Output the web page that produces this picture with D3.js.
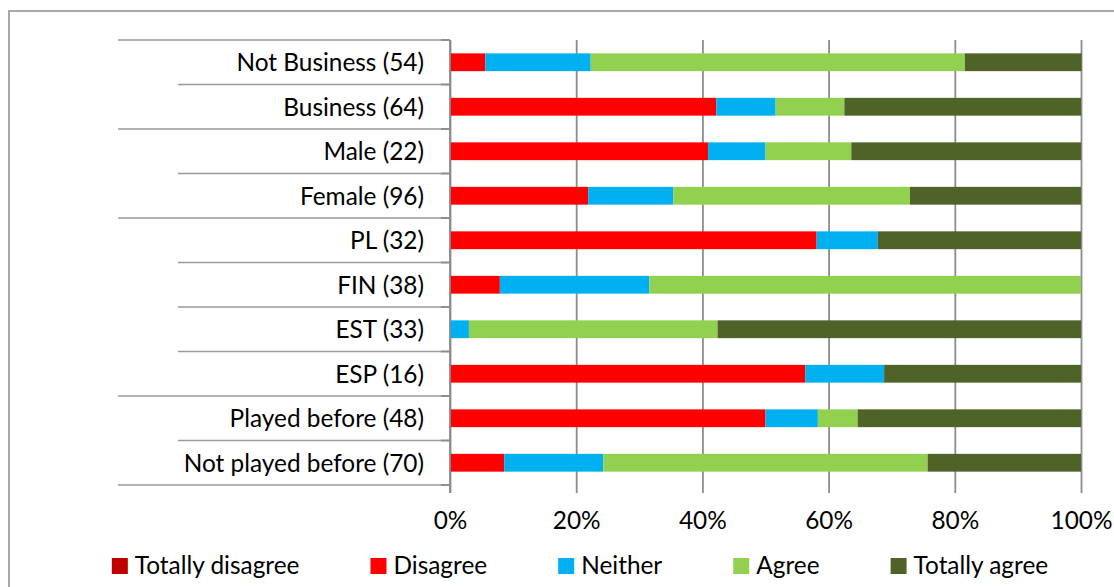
<!DOCTYPE html>
<html>
<head>
<meta charset="utf-8">
<script src="https://cdn.jsdelivr.net/npm/d3@7"></script>
<style>
  html, body { margin: 0; padding: 0; background: #fff; }
  svg { display: block; }
  text { font-family: Lato, "Liberation Sans", sans-serif; fill: #000; }
</style>
</head>
<body>
<svg id="chart" width="1114" height="587"></svg>
<script>
// Survey answers per respondent group, share of answers in percent
const categories = [
  "Not Business (54)", "Business (64)", "Male (22)", "Female (96)",
  "PL (32)", "FIN (38)", "EST (33)", "ESP (16)",
  "Played before (48)", "Not played before (70)"
];
// Outer grouping of the category axis (index of the first category in each group)
const groupStarts = [0, 2, 4, 8];

const seriesNames = ["Totally disagree", "Disagree", "Neither", "Agree", "Totally agree"];
const totallyDisagree = [0, 0, 0, 0, 0, 0, 0, 0, 0, 0];
const disagree        = [5.6, 42.2, 40.9, 21.9, 58.1, 7.9, 0, 56.3, 50.0, 8.6];
const neither         = [16.7, 9.4, 9.1, 13.5, 9.7, 23.7, 3.0, 12.5, 8.3, 15.7];
const agree           = [59.3, 10.9, 13.6, 37.5, 0, 68.4, 39.4, 0, 6.3, 51.4];
const totallyAgree    = [18.5, 37.5, 36.4, 27.1, 32.2, 0, 57.6, 31.2, 35.4, 24.3];
const tickValues = [0, 20, 40, 60, 80, 100];

const colors = ["#C00000", "#FF0000", "#00B0F0", "#92D050", "#4F6228"];
const seriesValues = [totallyDisagree, disagree, neither, agree, totallyAgree];

const svg = d3.select("#chart");
const W = 1114, H = 587;
const plot = { left: 450, right: 1081, top: 40, bottom: 485 };
const gridColor = "#8c8c8c";
const fontSize = 24.4;

// chart area frame (runs off the right and bottom edges)
svg.append("rect")
  .attr("x", 9).attr("y", 11)
  .attr("width", W).attr("height", H)
  .attr("fill", "none").attr("stroke", gridColor).attr("stroke-width", 1.5);

const x = d3.scaleLinear().domain([0, 100]).range([plot.left, plot.right]);
const y = d3.scaleBand().domain(categories).range([plot.top, plot.bottom]).paddingInner(0.6).paddingOuter(0.3);
const band = d3.scaleBand().domain(categories).range([plot.top, plot.bottom]);

// stacked rows
const rows = categories.map((c, i) => {
  const r = { category: c };
  seriesNames.forEach((s, k) => { r[s] = seriesValues[k][i]; });
  return r;
});
const stack = d3.stack().keys(seriesNames)(rows);

// vertical gridlines with ticks below the plot
const xAxis = d3.axisBottom(x).tickValues(tickValues).tickFormat(d => d + "%")
  .tickSize(-(plot.bottom - plot.top) - 8).tickPadding(0);
const gx = svg.append("g").attr("transform", `translate(0,${plot.bottom + 8})`).call(xAxis);
gx.select(".domain").remove();
gx.selectAll(".tick line").attr("stroke", gridColor).attr("stroke-width", 1.8);
gx.selectAll(".tick text")
  .attr("y", 36).attr("dy", 0).attr("font-size", fontSize).attr("fill", "#000")
  .attr("font-family", "Lato, 'Liberation Sans', sans-serif");

// bars
svg.append("g").selectAll("g").data(stack).join("g")
  .attr("fill", (d, k) => colors[k])
  .selectAll("rect").data(d => d).join("rect")
  .attr("x", d => x(d[0]))
  .attr("width", d => x(d[1]) - x(d[0]))
  .attr("y", d => y(d.data.category))
  .attr("height", y.bandwidth());

// category axis: boundary lines across the label column
const boundaries = d3.range(categories.length + 1);
const gy = svg.append("g");
gy.selectAll("line.sep").data(boundaries).join("line")
  .attr("class", "sep")
  .attr("x1", i => (groupStarts.includes(i) || i === categories.length) ? 118 : 178)
  .attr("x2", plot.left)
  .attr("y1", i => i < categories.length ? band(categories[i]) : plot.bottom)
  .attr("y2", i => i < categories.length ? band(categories[i]) : plot.bottom)
  .attr("stroke", "#9a9a9a").attr("stroke-width", 1.5);
gy.selectAll("line.tick").data(boundaries).join("line")
  .attr("class", "tick")
  .attr("x1", plot.left - 9).attr("x2", plot.left)
  .attr("y1", i => i < categories.length ? band(categories[i]) : plot.bottom)
  .attr("y2", i => i < categories.length ? band(categories[i]) : plot.bottom)
  .attr("stroke", gridColor).attr("stroke-width", 1.8);
gy.append("line")
  .attr("x1", plot.left).attr("x2", plot.left)
  .attr("y1", plot.top).attr("y2", plot.bottom + 8)
  .attr("stroke", gridColor).attr("stroke-width", 1.8);

gy.selectAll("text").data(categories).join("text")
  .attr("x", 424)
  .attr("y", d => band(d) + band.bandwidth() / 2 + 9)
  .attr("text-anchor", "end")
  .attr("font-size", fontSize)
  .text(d => d);

// legend, centred under the plot
const legend = svg.append("g");
const items = legend.selectAll("g").data(seriesNames).join("g");
items.append("rect").attr("width", 16).attr("height", 16).attr("y", -16)
  .attr("fill", (d, k) => colors[k]);
items.append("text").attr("x", 23).attr("y", 0).attr("font-size", fontSize).text(d => d);
let cursor = 0;
const gap = 71;
items.each(function () {
  const g = d3.select(this);
  g.attr("transform", `translate(${cursor},0)`);
  cursor += 23 + g.select("text").node().getComputedTextLength() + gap;
});
const total = cursor - gap;
legend.attr("transform", `translate(${580 - total / 2},574)`);
</script>
</body>
</html>
